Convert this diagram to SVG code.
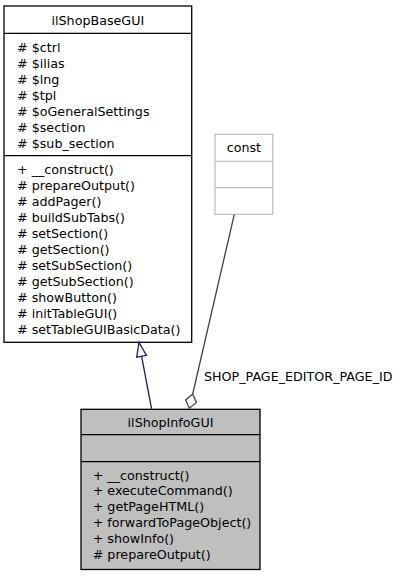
<svg xmlns="http://www.w3.org/2000/svg" width="401" height="576" viewBox="0 0 401 576">
<style>
text{font-family:"DejaVu Sans","Liberation Sans",sans-serif;font-size:12.7px;fill:#000}
.c{text-anchor:middle}
.box{stroke:#000;stroke-width:1.3;fill:#fff}
.gray{fill:#bfbfbf}
.lite{stroke:#bfbfbf;stroke-width:1.3;fill:#fff}
.div{stroke:#000;stroke-width:1.3}
.ldiv{stroke:#bfbfbf;stroke-width:1.3}
</style>
<rect width="401" height="576" fill="#fff"/>
<g id="ilShopBaseGUI">
<rect class="box" x="4" y="6" width="187.7" height="336.3"/>
<line class="div" x1="4" y1="33.3" x2="191.7" y2="33.3"/>
<line class="div" x1="4" y1="155.7" x2="191.7" y2="155.7"/>
<text class="c" x="97.85" y="24.5">ilShopBaseGUI</text>
<text x="17" y="51.7"># $ctrl</text>
<text x="17" y="67.7"># $ilias</text>
<text x="17" y="83.7"># $lng</text>
<text x="17" y="99.7"># $tpl</text>
<text x="17" y="115.7"># $oGeneralSettings</text>
<text x="17" y="131.7"># $section</text>
<text x="17" y="147.7"># $sub_section</text>
<text x="17" y="173.8">+ __construct()</text>
<text x="17" y="189.8"># prepareOutput()</text>
<text x="17" y="205.8"># addPager()</text>
<text x="17" y="221.8"># buildSubTabs()</text>
<text x="17" y="237.8"># setSection()</text>
<text x="17" y="253.8"># getSection()</text>
<text x="17" y="269.8"># setSubSection()</text>
<text x="17" y="285.8"># getSubSection()</text>
<text x="17" y="301.8"># showButton()</text>
<text x="17" y="317.8"># initTableGUI()</text>
<text x="17" y="333.8"># setTableGUIBasicData()</text>
</g>
<g id="const">
<rect class="lite" x="215" y="134.3" width="57.7" height="80"/>
<line class="ldiv" x1="215" y1="161.3" x2="272.7" y2="161.3"/>
<line class="ldiv" x1="215" y1="187.7" x2="272.7" y2="187.7"/>
<text class="c" x="243.85" y="152.3">const</text>
</g>
<g id="ilShopInfoGUI">
<rect class="box gray" x="81" y="409.3" width="179" height="160.2"/>
<line class="div" x1="81" y1="434.7" x2="260" y2="434.7"/>
<line class="div" x1="81" y1="461.7" x2="260" y2="461.7"/>
<text class="c" x="170.5" y="426.5">ilShopInfoGUI</text>
<text x="92.7" y="479.5">+ __construct()</text>
<text x="92.7" y="495.3">+ executeCommand()</text>
<text x="92.7" y="511.1">+ getPageHTML()</text>
<text x="92.7" y="526.9">+ forwardToPageObject()</text>
<text x="92.7" y="542.7">+ showInfo()</text>
<text x="92.7" y="558.5"># prepareOutput()</text>
</g>
<g id="connectors">
<line x1="151.7" y1="409.3" x2="141.6" y2="356.3" stroke="#191970" stroke-width="1.3"/>
<polygon points="139,342.5 146.5,355.4 136.7,357.2" fill="#fff" stroke="#191970" stroke-width="1.3"/>
<line x1="234.3" y1="214.3" x2="192.7" y2="394" stroke="#404040" stroke-width="1.3"/>
<polygon points="192.7,394 196.4,402.4 189.3,408.3 185.6,400" fill="#fff" stroke="#404040" stroke-width="1.3"/>
<text x="204" y="380.7">SHOP_PAGE_EDITOR_PAGE_ID</text>
</g>
</svg>
